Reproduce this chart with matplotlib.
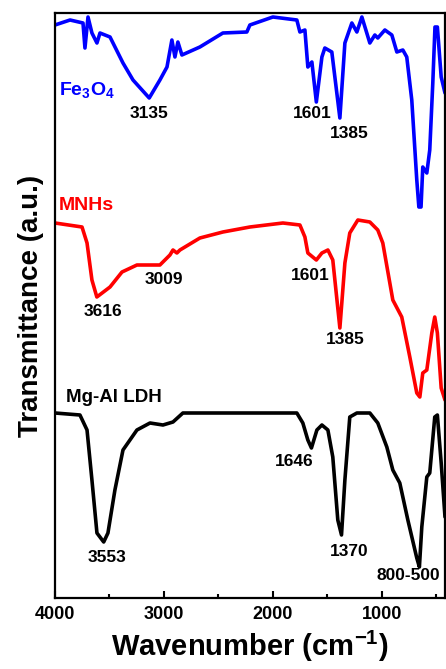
import matplotlib
matplotlib.use("Agg")
import numpy as np
from matplotlib import pyplot as plt
from matplotlib.ticker import MultipleLocator

plt.rcParams['font.family'] = ['Liberation Sans', 'DejaVu Sans']
plt.rcParams['font.weight'] = 'bold'
plt.rcParams['mathtext.fontset'] = 'custom'
plt.rcParams['mathtext.rm'] = 'Liberation Sans:bold'
plt.rcParams['mathtext.bf'] = 'Liberation Sans:bold'
plt.rcParams['mathtext.default'] = 'bf'

# Fe3O4 (blue)
fe_wn = [4000, 3862, 3743, 3725, 3697, 3661, 3615, 3587, 3495, 3376, 3284, 3135,
         3037, 2972, 2927, 2899, 2872, 2835, 2670, 2459, 2239, 2211, 2000, 1780,
         1752, 1706, 1679, 1642, 1601, 1550, 1523, 1459, 1385, 1339, 1275, 1229,
         1183, 1138, 1110, 1064, 1037, 972, 908, 862, 807, 771, 725, 679, 660,
         640, 624, 587, 560, 532, 512, 490, 455, 420]
fe_t = [573, 578, 575, 550, 581, 565, 555, 565, 561, 535, 518, 500,
        518, 531, 558, 541, 556, 543, 551, 565, 566, 573, 581, 578,
        566, 568, 531, 536, 496, 541, 550, 546, 480, 555, 575, 566,
        581, 565, 555, 563, 560, 568, 563, 546, 548, 541, 498, 418, 391,
        391, 431, 425, 448, 515, 571, 571, 521, 505]

# MNHs (red)
mn_wn = [4000, 3752, 3706, 3661, 3616, 3495, 3385, 3248, 3037, 2945, 2917, 2881,
         2853, 2670, 2459, 2211, 1908, 1752, 1706, 1679, 1601, 1550, 1495, 1450,
         1385, 1339, 1294, 1220, 1110, 1037, 991, 899, 817, 743, 679, 651, 624,
         587, 541, 514, 490, 455, 420]
mn_t = [375, 371, 355, 318, 301, 311, 326, 333, 333, 343, 348, 345,
        348, 360, 366, 371, 375, 373, 361, 345, 338, 345, 348, 338,
        270, 335, 365, 378, 376, 368, 355, 298, 281, 241, 205, 201, 225,
        228, 265, 281, 265, 210, 198]

# Mg-Al LDH (black)
ldh_wn = [4000, 3771, 3706, 3661, 3615, 3553, 3514, 3450, 3376, 3248, 3128, 3009,
          2917, 2826, 1780, 1725, 1679, 1646, 1596, 1550, 1495, 1450, 1404, 1370,
          1339, 1294, 1229, 1110, 1037, 954, 899, 835, 761, 679, 655, 633, 587,
          560, 514, 490, 455, 420]
ldh_t = [185, 183, 168, 118, 65, 56, 65, 108, 148, 168, 175, 173,
         176, 185, 185, 175, 158, 150, 168, 173, 168, 141, 78, 63,
         118, 181, 185, 185, 175, 151, 128, 115, 78, 40, 31, 71, 121,
         125, 181, 183, 135, 81]

fig = plt.figure(figsize=(4.46, 6.69), dpi=100)
ax = fig.add_axes([55 / 446, 71 / 669, 390 / 446, 585 / 669])

kw = dict(lw=2.6, solid_joinstyle='round', solid_capstyle='round')
ax.plot(fe_wn, fe_t, color='#0000ff', **kw)
ax.plot(mn_wn, mn_t, color='#ff0000', **kw)
ax.plot(ldh_wn, ldh_t, color='black', **kw)

ax.set_xlim(4000, 420)
ax.set_ylim(0, 585)

ax.xaxis.set_major_locator(MultipleLocator(1000))
ax.xaxis.set_minor_locator(MultipleLocator(500))
ax.tick_params(axis='x', which='major', direction='in', length=5, width=1.5,
               labelsize=13, pad=6)
ax.tick_params(axis='x', which='minor', direction='in', length=3, width=1.5)
ax.set_yticks([])
for s in ax.spines.values():
    s.set_linewidth(1.6)

ax.set_xlabel('Wavenumber (cm$^{-1}$)', fontsize=21, fontweight='bold', labelpad=4)
ax.set_ylabel('Transmittance (a.u.)', fontsize=20, fontweight='bold', labelpad=8)

# series names
ax.text(3965, 508, 'Fe$_3$O$_4$', color='#0000ff', fontsize=14, va='center', ha='left')
ax.text(3965, 393, 'MNHs', color='#ff0000', fontsize=14, va='center', ha='left')
ax.text(3900, 201, 'Mg-Al LDH', color='black', fontsize=13.5, va='center', ha='left')

# peak labels
peak_x = [3135, 1640, 1300, 3560, 3000, 1660, 1335, 3520, 1800, 1300, 760]
peak_y = [485, 485, 465, 286, 318, 323, 258, 41, 136, 46, 23]
peak_txt = ['3135', '1601', '1385', '3616', '3009', '1601', '1385', '3553', '1646',
            '1370', '800-500']
for px, py, t in zip(peak_x, peak_y, peak_txt):
    ax.text(px, py, t, fontsize=12.5, ha='center', va='center', clip_on=False)

fig.savefig('out.png', dpi=100)
